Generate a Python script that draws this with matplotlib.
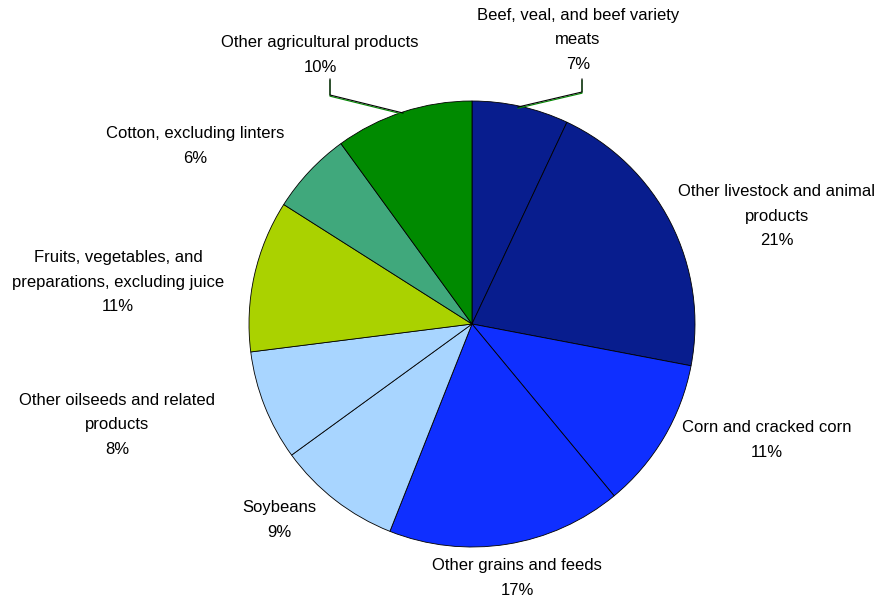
import matplotlib.pyplot as plt
import numpy as np

plt.rcParams['font.family'] = ['Liberation Sans', 'DejaVu Sans']

# export shares, clockwise from 12 o'clock
categories = [
    'Beef, veal, and beef variety\nmeats',
    'Other livestock and animal\nproducts',
    'Corn and cracked corn',
    'Other grains and feeds',
    'Soybeans',
    'Other oilseeds and related\nproducts',
    'Fruits, vegetables, and\npreparations, excluding juice',
    'Cotton, excluding linters',
    'Other agricultural products',
]
shares = [7, 21, 11, 17, 9, 8, 11, 6, 10]

colors = ['#081D8E', '#081D8E', '#0F2FFF', '#0F2FFF', '#A8D5FF',
          '#A8D5FF', '#AAD200', '#40A87C', '#008A00']

# label anchor points in figure pixels (x, y from top)
label_px = [(578, 40), (777, 216), (767, 440), (517, 578), (279, 520),
            (117, 425), (118, 282), (195, 146), (320, 55)]

W, H = 883, 597
cx, cy, R = 472, 324, 223


def to_data(px, py):
    return (px - cx) / R, (cy - py) / R


fig = plt.figure(figsize=(W / 100, H / 100), dpi=100)
ax = fig.add_axes([0, 0, 1, 1])

ax.pie(shares, colors=colors, startangle=90, counterclock=False, radius=1,
       wedgeprops=dict(edgecolor='black', linewidth=0.6))
ax.set_xlim(-cx / R, (W - cx) / R)
ax.set_ylim(-(H - cy) / R, cy / R)
ax.set_aspect('auto')
ax.axis('off')

for name, val, (px, py) in zip(categories, shares, label_px):
    x, y = to_data(px, py)
    ax.text(x, y, f'{name}\n{val}%', ha='center', va='center', fontsize=12,
            linespacing=1.8, color='black')

# leader lines for the two small top slices
leaders = [[(582, 79), (582, 92), (518, 107)],
           [(330, 79), (330, 95), (403, 113)]]
for pts in leaders:
    xs, ys = zip(*[to_data(*p) for p in pts])
    ax.plot(np.array(xs), np.array(ys) - 1.2 / R, color='#008A00', lw=0.8)
    ax.plot(xs, ys, color='black', lw=0.8)

fig.savefig('out.png', dpi=100)
